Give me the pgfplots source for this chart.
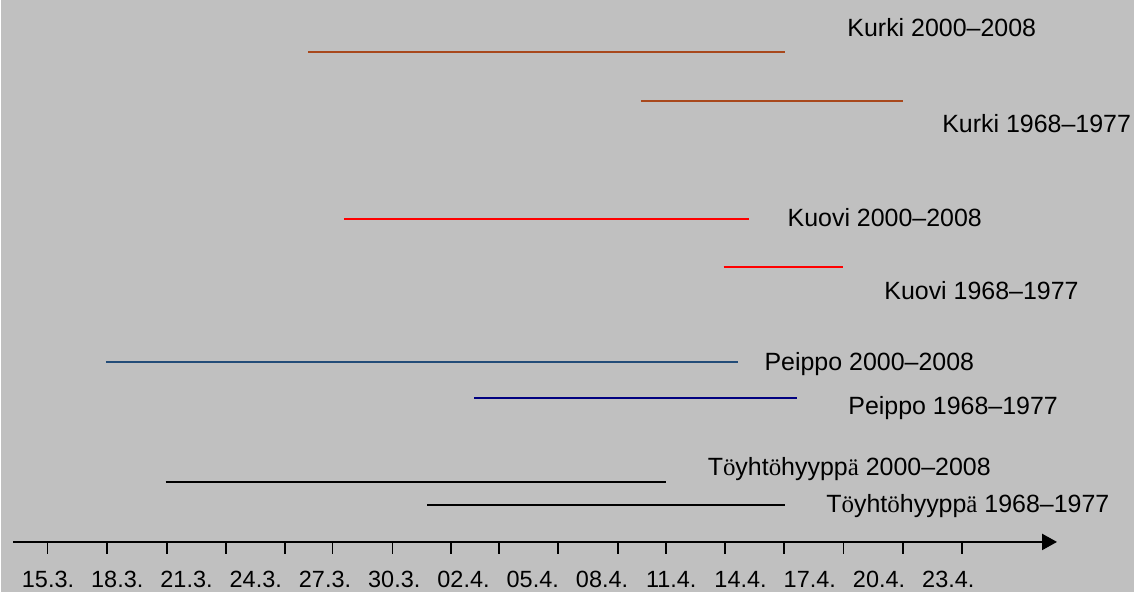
\documentclass[border=0pt]{standalone}
\usepackage{fontspec}
\setmainfont{Liberation Sans}
\newfontfamily\seriff{Liberation Serif}
\usepackage{pgfplots}
\pgfplotsset{compat=1.18}
\usetikzlibrary{arrows.meta}
\definecolor{bggray}{HTML}{C0C0C0}
\definecolor{kurki}{HTML}{A8481C}
\definecolor{kuovi}{HTML}{FF0000}
\definecolor{peippoA}{HTML}{234C78}
\definecolor{peippoB}{HTML}{000080}
\newcommand{\soo}{{\seriff ö}}
\newcommand{\saa}{{\seriff ä}}
\tikzset{lbl/.style={font=\fontsize{25}{30}\selectfont, inner sep=0pt, outer sep=0pt, anchor=base west, text=black}}
\begin{document}
\begin{tikzpicture}
\begin{axis}[
  scale only axis, width=1135pt, height=593pt,
  xmin=-2.032, xmax=47.04, ymin=-50, ymax=543,
  clip=false,
  axis background/.style={fill=bggray},
  axis y line=none,
  axis x line=middle,
  x axis line style={-{Triangle[length=15pt,width=16pt]}, line width=2.2pt, shorten <=12pt, shorten >=77pt},
  xtick={-0.02,2.55,5.15,7.70,10.25,12.32,14.92,17.47,19.54,22.09,24.69,26.76,29.31,31.87,34.46,37.05,39.61},
  xticklabels={},
  xtick align=outside,
  major tick length=12pt,
  tick style={line width=1.8pt, black},
  tick label style={font=\fontsize{23.5}{28}\selectfont},
  extra x ticks={0,3,6,9,12,15,18,21,24,27,30,33,36,39},
  extra x tick labels={15.3.,18.3.,21.3.,24.3.,27.3.,30.3.,02.4.,05.4.,08.4.,11.4.,14.4.,17.4.,20.4.,23.4.},
  extra x tick style={major tick length=0pt, tick style={draw=none},
     xticklabel style={font=\fontsize{23.5}{28}\selectfont, yshift=-26pt}},
]
\addplot[draw=kurki, line width=2pt, mark=none] coordinates {(11.26,491) (31.91,491)};
\addplot[draw=kurki, line width=2pt, mark=none] coordinates {(25.68,442) (37.05,442)};
\addplot[draw=kuovi, line width=2pt, mark=none] coordinates {(12.84,324) (30.35,324)};
\addplot[draw=kuovi, line width=2pt, mark=none] coordinates {(29.27,275.4) (34.45,275.4)};
\addplot[draw=peippoA, line width=2pt, mark=none] coordinates {(2.51,180.5) (29.88,180.5)};
\addplot[draw=peippoB, line width=2pt, mark=none] coordinates {(18.46,144) (32.43,144)};
\addplot[draw=black, line width=2pt, mark=none] coordinates {(5.10,60.5) (26.76,60.5)};
\addplot[draw=black, line width=2pt, mark=none] coordinates {(16.43,37) (31.91,37)};
\node[lbl] at (axis cs:34.63,506.5) {Kurki 2000–2008};
\node[lbl] at (axis cs:38.74,410.7) {Kurki 1968–1977};
\node[lbl] at (axis cs:32.04,316) {Kuovi 2000–2008};
\node[lbl] at (axis cs:36.23,243) {Kuovi 1968–1977};
\node[lbl] at (axis cs:31.04,172) {Peippo 2000–2008};
\node[lbl] at (axis cs:34.67,128) {Peippo 1968–1977};
\node[lbl] at (axis cs:28.58,66.3) {T\soo yht\soo hyypp\saa{} 2000–2008};
\node[lbl] at (axis cs:33.72,30) {T\soo yht\soo hyypp\saa{} 1968–1977};
\end{axis}
\end{tikzpicture}
\end{document}
